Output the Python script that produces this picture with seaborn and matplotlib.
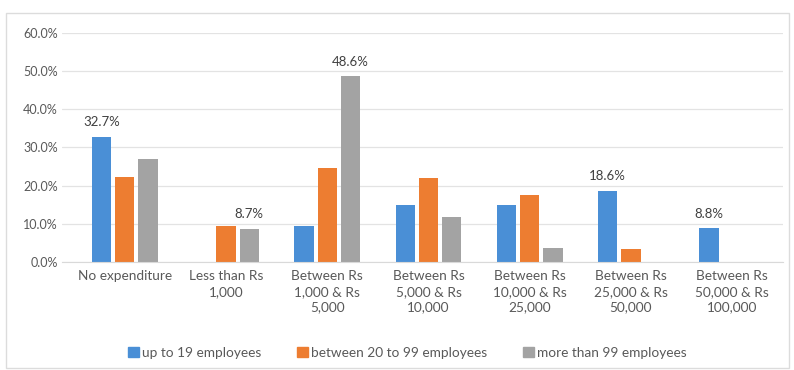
import numpy as np
import pandas as pd
import seaborn as sns
import matplotlib.pyplot as plt
from matplotlib.patches import Rectangle

# data (percent)
categories = ['No expenditure', 'Less than Rs\n1,000', 'Between Rs\n1,000 & Rs\n5,000',
              'Between Rs\n5,000 & Rs\n10,000', 'Between Rs\n10,000 & Rs\n25,000',
              'Between Rs\n25,000 & Rs\n50,000', 'Between Rs\n50,000 & Rs\n100,000']
series = ['up to 19 employees', 'between 20 to 99 employees', 'more than 99 employees']
small = [32.7, 0.0, 9.4, 15.0, 14.9, 18.6, 8.8]
medium = [22.2, 9.3, 24.6, 22.0, 17.6, 3.5, 0.0]
large = [27.0, 8.7, 48.6, 11.8, 3.7, 0.0, 0.0]
# which bar gets a value label: (series index, category index)
labelled = [(0, 0), (2, 1), (2, 2), (0, 5), (0, 6)]

colors = ['#4a8fd6', '#ed7d31', '#a3a3a3']

df = pd.DataFrame({
    'cat': categories * 3,
    'series': np.repeat(series, len(categories)),
    'value': small + medium + large,
})

sns.set_style('white')
plt.rcParams['font.family'] = ['Lato', 'DejaVu Sans']

fig = plt.figure(figsize=(7.94, 3.70), dpi=100)
fig.patches.append(Rectangle((0.008, 0.005), 0.986, 0.96, transform=fig.transFigure,
                             fill=False, edgecolor='#dcdcdc', linewidth=1))
ax = fig.add_axes([0.078, 0.292, 0.908, 0.619])

sns.barplot(data=df, x='cat', y='value', hue='series', order=categories, hue_order=series,
            palette=colors, saturation=1, width=0.69, gap=0.17, ax=ax, legend=True,
            errorbar=None, linewidth=0)

ax.set_xlim(-0.62, 6.5)
ax.set_ylim(0, 60)
ax.set_yticks(np.arange(0, 61, 10))
ax.set_yticklabels([f'{v:.1f}%' for v in np.arange(0, 61, 10)])
ax.yaxis.grid(True, color='#e3e3e3', linewidth=0.9)
ax.set_axisbelow(True)
for s in ['top', 'right', 'left']:
    ax.spines[s].set_visible(False)
ax.spines['bottom'].set_color('#d9d9d9')
ax.tick_params(axis='y', length=0, labelsize=9, colors='#595959', pad=3)
ax.tick_params(axis='x', length=0, labelsize=9.8, colors='#595959', pad=6)
for t in ax.get_xticklabels():
    t.set_linespacing(1.35)
ax.set_xlabel('')
ax.set_ylabel('')

vals = [small, medium, large]
for si, ci in labelled:
    p = ax.containers[si][ci]
    ax.text(p.get_x() + p.get_width() / 2, vals[si][ci] + 2.3, f'{vals[si][ci]:.1f}%',
            ha='center', va='bottom', fontsize=9.5, color='#404040')

ax.get_legend().remove()
handles = [Rectangle((0, 0), 1, 1, color=c) for c in colors]
fig.legend(handles, series, loc='center', bbox_to_anchor=(0.513, 0.046), ncol=3,
           frameon=False, fontsize=9.8, handlelength=0.8, handleheight=0.8,
           handletextpad=0.25, columnspacing=2.6, labelcolor='#595959')

fig.savefig('out.png', dpi=100)
